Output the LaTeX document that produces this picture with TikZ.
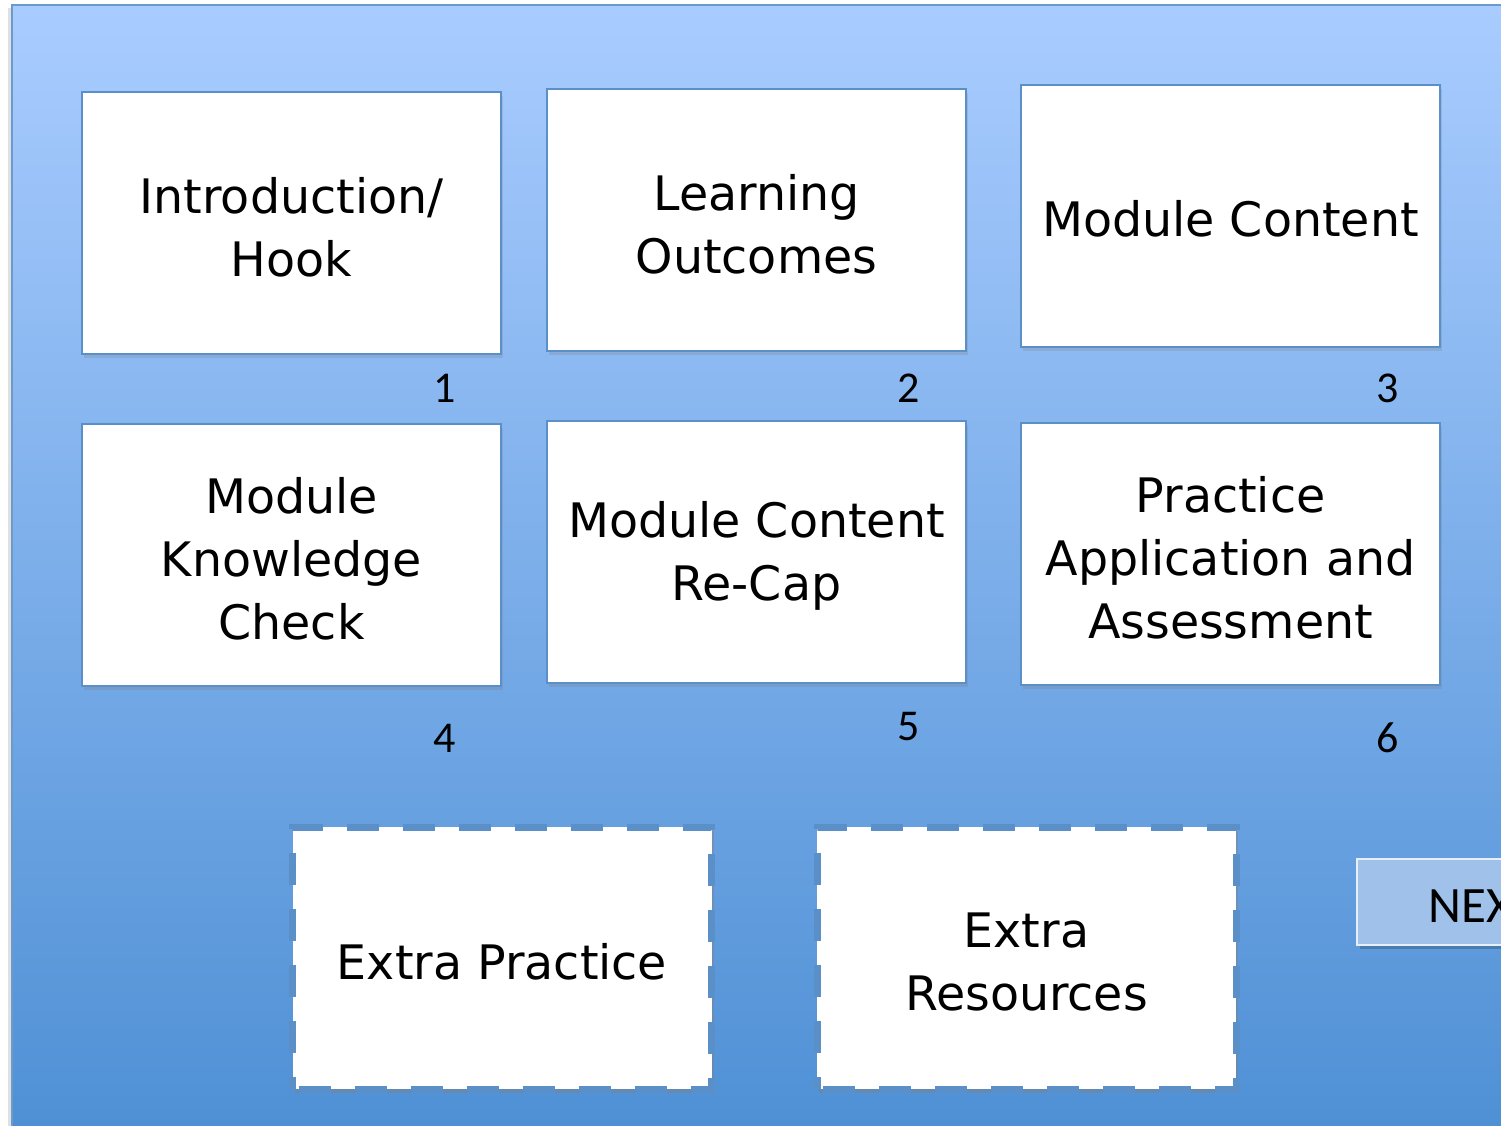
\documentclass[tikz,border=0pt]{standalone}
\usepackage{fontspec}
\setmainfont{DejaVu Sans}
\newfontfamily\numfont{Carlito}
\usetikzlibrary{shadows}
\definecolor{bgtop}{HTML}{A9CCFF}
\definecolor{bgbot}{HTML}{4D8FD4}
\definecolor{edge}{HTML}{5B8FC8}
\definecolor{nextfill}{HTML}{A0C2EA}
\tikzset{
  card/.style={draw=edge, line width=2pt, fill=white, minimum width=419pt, minimum height=262pt,
    drop shadow={opacity=0.25, shadow xshift=2pt, shadow yshift=-4pt}},
  dashcard/.style={card, line width=7pt, dash pattern=on 32pt off 24pt, dash phase=-6pt, drop shadow={opacity=0.2, shadow xshift=2pt, shadow yshift=-4pt}},
  cardtext/.style={align=center, font=\fontsize{47.5pt}{63pt}\selectfont, inner sep=0pt},
  num/.style={font=\numfont\fontsize{44pt}{50pt}\selectfont, inner sep=0pt},
}
\begin{document}
\begin{tikzpicture}[x=1pt,y=-1pt]
\useasboundingbox (0,0) rectangle (1501,1125);
\clip (0,0) rectangle (1501,1125);
\fill[black, opacity=0.12] (8,8) rectangle (1530,1150);
\shade[top color=bgtop, bottom color=bgbot, draw=edge!90, line width=1.5pt] (12,5) rectangle (1530,1150);
\node[card] (b1) at (291.5,223) {};
\node[card] (b2) at (756.5,220) {};
\node[card] (b3) at (1230.5,215.5) {};
\node[card] (b4) at (291.5,555) {};
\node[card] (b5) at (756.5,552) {};
\node[card] (b6) at (1230.5,554) {};
\node[dashcard] (b7) at (502,958) {};
\node[dashcard] (b8) at (1026.5,958) {};
\node[cardtext] (t1) at ([yshift=-4pt]b1.center) {Introduction/\\Hook};
\node[cardtext] (t2) at ([yshift=-4pt]b2.center) {Learning\\Outcomes};
\node[cardtext] (t3) at ([yshift=-3pt]b3.center) {Module Content};
\node[cardtext] (t4) at ([yshift=-4pt]b4.center) {Module\\Knowledge\\Check};
\node[cardtext] (t5) at ([yshift=-4pt]b5.center) {Module Content\\Re-Cap};
\node[cardtext] (t6) at ([yshift=-4pt]b6.center) {Practice\\Application and\\Assessment};
\node[cardtext] (t7) at ([yshift=-4pt]b7.center) {Extra Practice};
\node[cardtext] (t8) at ([yshift=-4pt]b8.center) {Extra\\Resources};
\node[num] (n1) at (445,388) {1};
\node[num] (n2) at (909,388) {2};
\node[num] (n3) at (1388,388) {3};
\node[num] (n4) at (445,738) {4};
\node[num] (n5) at (909,727) {5};
\node[num] (n6) at (1388,738) {6};
\fill[black, opacity=0.2] (1360,863) rectangle (1560,949);
\draw[draw=white!75!nextfill, line width=2pt, fill=nextfill] (1357,859) rectangle (1560,945);
\node[font=\numfont\fontsize{51pt}{56pt}\selectfont, anchor=west, inner sep=0pt] (nx) at (1428,906) {NEXT};
\end{tikzpicture}
\end{document}
